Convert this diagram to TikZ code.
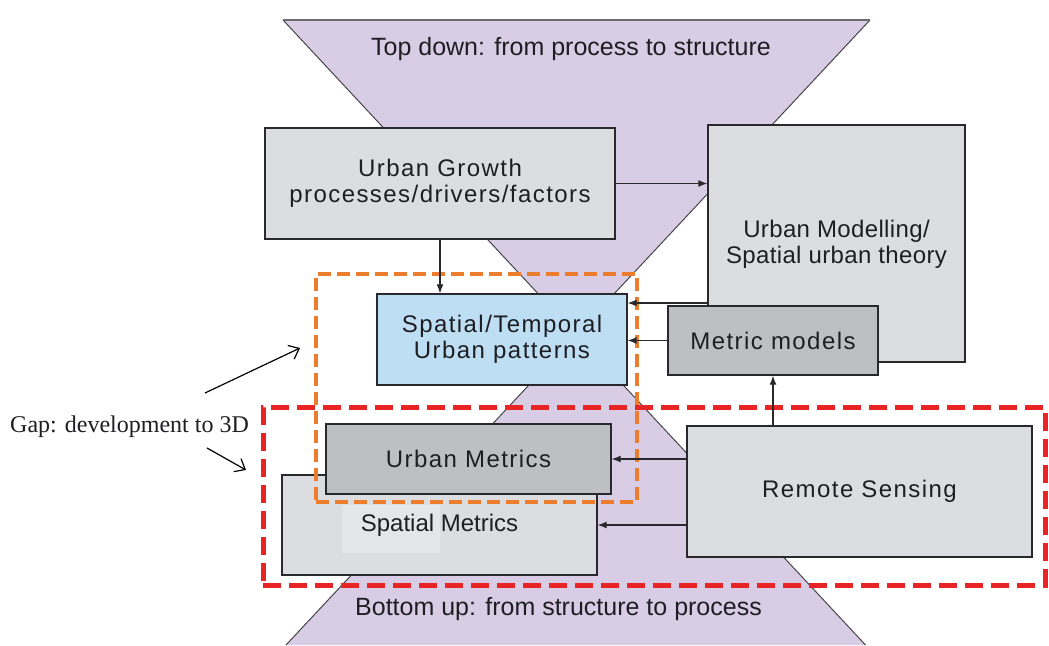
\documentclass[tikz,border=0pt]{standalone}
\usepackage{fontspec}
\setmainfont{Liberation Sans}
\newfontfamily\boxfont[LetterSpace=6]{Liberation Sans}
\newfontfamily\modfont[LetterSpace=1.5]{Liberation Sans}
\newfontfamily\gapfont{Liberation Serif}
\usetikzlibrary{arrows.meta,calc}
\definecolor{hourglass}{RGB}{216,205,228}
\definecolor{hgline}{RGB}{70,70,75}
\definecolor{boxgray}{RGB}{220,221,224}
\definecolor{darkgray}{RGB}{190,191,194}
\definecolor{lightblue}{RGB}{190,222,243}
\definecolor{boxline}{RGB}{40,40,45}
\definecolor{txt}{RGB}{30,30,35}
\definecolor{orangedash}{RGB}{236,125,45}
\definecolor{reddash}{RGB}{232,36,36}
\definecolor{patchcol}{RGB}{228,230,233}
\begin{document}
\begin{tikzpicture}[x=1pt,y=-1pt,
  box/.style={draw=boxline, line width=1.4pt, fill=boxgray, inner sep=0pt,
    font=\boxfont\fontsize{24}{26}\selectfont, text=txt, align=center},
  darkbox/.style={box, fill=darkgray},
  bluebox/.style={box, fill=lightblue},
  arr/.style={draw=boxline, line width=1.2pt, -{Latex[length=9pt,width=7pt]}},
  gaparr/.style={draw=black, line width=1.2pt, -{Straight Barb[length=9pt,width=15pt,line width=1.2pt]}},
  bigtext/.style={font=\fontsize{25}{30}\selectfont, text=txt, inner sep=0pt},
  orangebox/.style={draw=orangedash, line width=4pt, dash pattern=on 13pt off 6pt},
  redbox/.style={draw=reddash, line width=5pt, dash pattern=on 18pt off 8pt}]
\useasboundingbox (0,0) rectangle (1049,645);
\fill[white] (0,0) rectangle (1049,645);

% hourglass
\coordinate (tl) at (283,20);
\coordinate (tr) at (870,20);
\coordinate (mid) at (576,334.6);
\coordinate (bl) at (286,645);
\coordinate (br) at (865.5,645);
\fill[hourglass] (tl) -- (tr) -- (mid) -- cycle;
\fill[hourglass] (mid) -- (br) -- (bl) -- cycle;
\draw[hgline, line width=1pt] (tl) -- (br);
\draw[hgline, line width=1pt] (tr) -- (bl);
\draw[hgline!80, line width=1.5pt] (tl) -- (tr);

\node[bigtext, anchor=base] (topt) at (571,55) {Top down: from process to structure};
\node[bigtext, anchor=base] (bott) at (558.5,615) {Bottom up: from structure to process};

% boxes
\node[box, minimum width=350pt, minimum height=111pt] (ug) at (440,183.5)
  {Urban Growth\\processes/drivers/factors};
\node[box, minimum width=257pt, minimum height=237pt, font=\modfont\fontsize{24}{26}\selectfont] (um) at (836.5,243.5)
  {\strut Urban Modelling/\\Spatial urban theory};
\node[darkbox, minimum width=210pt, minimum height=69pt] (mm) at (773,340.5) {Metric models};
\node[bluebox, minimum width=250pt, minimum height=91pt] (st) at (502,339.5)
  {Spatial/Temporal\\Urban patterns};
\node[box, minimum width=345pt, minimum height=131pt] (rs) at (859.5,491.5) {Remote Sensing};
\node[box, minimum width=315pt, minimum height=100pt, font=\fontsize{24}{26}\selectfont,
  path picture={\fill[patchcol] ($(path picture bounding box.center)+(-97.5,-20)$) rectangle ++(98,48);}] (sm) at (439.5,525)
  {Spatial Metrics};
\node[darkbox, minimum width=285pt, minimum height=70pt] (umet) at (468.5,459) {Urban Metrics};

% dashed frames
\node[orangebox, inner sep=0pt, minimum width=321pt, minimum height=228pt] (orange) at (476.5,388) {};
\node[redbox, inner sep=0pt, minimum width=782pt, minimum height=178pt] (red) at (654,496) {};

% arrows
\draw[arr] (ug.east) -- (ug.east -| um.west);
\draw[arr] (ug.south) -- (ug.south |- st.north);
\path ([yshift=36.5pt]st.east) coordinate (sta);
\draw[arr] (um.west |- sta) -- (sta);
\draw[arr] (mm.west) -- (mm.west -| st.east);
\draw[arr] (mm.south |- rs.north) -- (mm.south);
\draw[arr] (umet.east -| rs.west) -- (umet.east);
\draw[arr] (sm.east -| rs.west) -- (sm.east);

% gap annotation
\node[font=\gapfont\fontsize{24}{28}\selectfont, text=txt, inner sep=0pt, anchor=base west] (gap) at (10,432)
  {Gap: development to 3D};
\coordinate (g1s) at (205,393);
\coordinate (g1e) at (300,348);
\coordinate (g2s) at (207,448);
\coordinate (g2e) at (246,470);
\draw[gaparr] (g1s) -- (g1e);
\draw[gaparr] (g2s) -- (g2e);
\end{tikzpicture}
\end{document}
